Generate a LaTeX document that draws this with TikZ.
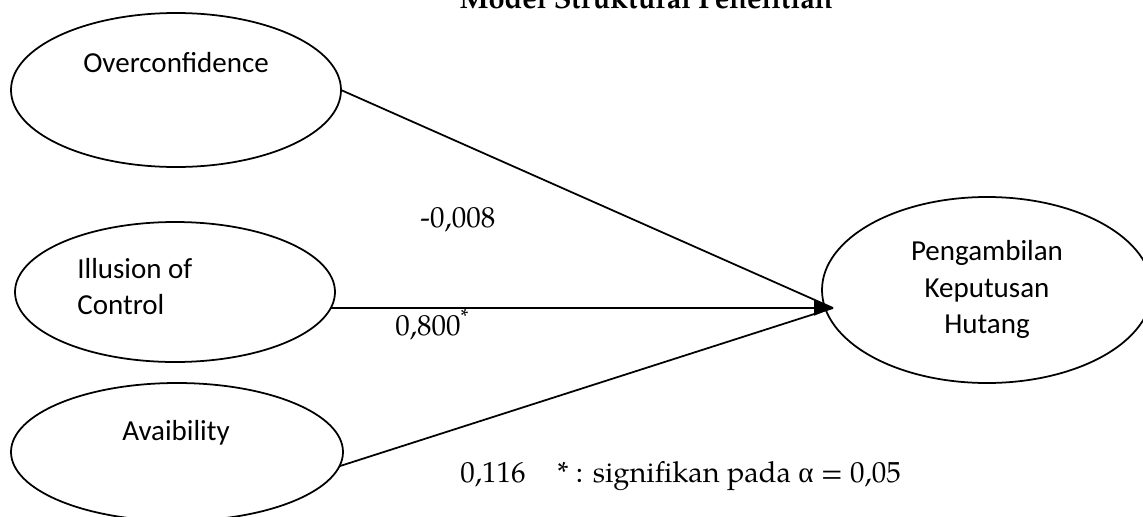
\documentclass[tikz,border=0pt]{standalone}
\usepackage{fontspec}
\usetikzlibrary{arrows.meta,shapes.geometric}
\setmainfont{Carlito}
\newfontfamily\numfont[Extension=.otf,UprightFont=*-regular,BoldFont=*-bold]{texgyrepagella}
\newfontfamily\alphafont{Liberation Serif}

\tikzset{
  latent/.style={draw, ellipse, line width=1pt, inner sep=0pt, outer sep=0pt},
  vartext/.style={inner sep=0pt, font=\fontsize{16.5}{21}\selectfont},
  coef/.style={inner sep=0pt, font=\numfont\fontsize{16.5}{21}\selectfont},
  link/.style={line width=1pt},
  headed/.style={link, -{Triangle[length=0.38cm,width=0.30cm]}},
}

\begin{document}
\begin{tikzpicture}
  \clip (0,0) rectangle (22.86,10.32);

  % title
  \node[coef, font=\numfont\bfseries\fontsize{16.5}{21}\selectfont, anchor=base] (title) at (12.92,10.16) {Model Struktural Penelitian};

  % latent variables
  \node[latent, minimum width=6.60cm, minimum height=3.08cm] (oc) at (3.52,8.52) {};
  \node[latent, minimum width=6.40cm, minimum height=2.80cm] (ic) at (3.50,4.48) {};
  \node[latent, minimum width=6.64cm, minimum height=2.76cm] (av) at (3.54,1.28) {};
  \node[latent, minimum width=6.60cm, minimum height=3.72cm] (pk) at (19.74,4.52) {};

  % variable names
  \node[vartext, anchor=base] (oct) at (3.52,8.88) {Overconfidence};
  \node[vartext, anchor=west, align=left] (ict) at (1.54,4.59) {Illusion of\\Control};
  \node[vartext, anchor=base] (avt) at (3.52,1.52) {Avaibility};
  \node[vartext, align=center] (pkt) at (19.74,4.53) {Pengambilan\\Keputusan\\Hutang};

  % paths into the dependent variable
  \coordinate (tip) at (16.66,4.16);
  \draw[link] (oc.east) -- (tip);
  \draw[link] (av.-5) -- (tip);
  \draw[headed] (ic.-6 |- tip) -- (tip);

  % path coefficients
  \node[coef, anchor=base west] (c1) at (8.40,5.78) {-0,008};
  \node[coef, anchor=base west] (c2) at (7.90,3.62) {0,800\textsuperscript{*}};
  \node[coef, anchor=base west] (c3) at (9.20,0.68) {0,116};
  \node[coef, anchor=base west] (note) at (11.14,0.68) {* : signifikan pada {\alphafont α} = 0,05};
\end{tikzpicture}
\end{document}
